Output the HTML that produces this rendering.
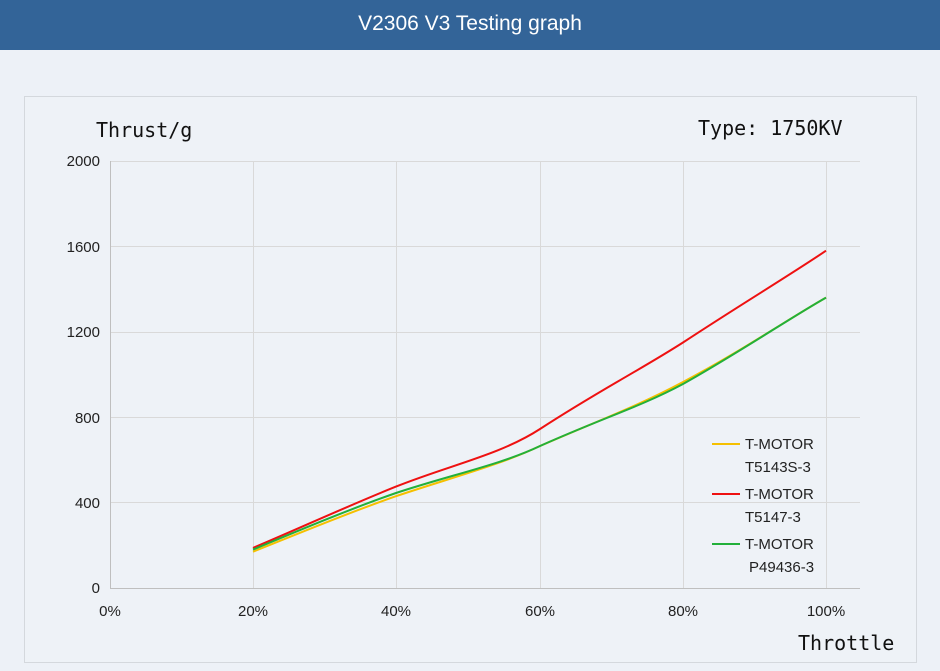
<!DOCTYPE html>
<html><head><meta charset="utf-8"><style>
body{margin:0;width:940px;height:671px;background:#edf1f7;overflow:hidden;font-family:"Liberation Sans",sans-serif}
.hdr{position:absolute;left:0;top:0;width:940px;height:50px;background:#336498;color:#fff;font-size:21px;text-align:center;line-height:48px}
</style></head><body>
<div class="hdr">V2306 V3 Testing graph</div>
<svg style="position:absolute;left:0;top:0" width="940" height="671">
<rect x="24.5" y="96.5" width="892" height="566" fill="#eef2f7" stroke="#d4d8dd"/>
<g stroke="#d9d9d9" stroke-width="1">
<line x1="110" y1="161.5" x2="860" y2="161.5"/><line x1="110" y1="246.5" x2="860" y2="246.5"/>
<line x1="110" y1="332.5" x2="860" y2="332.5"/><line x1="110" y1="417.5" x2="860" y2="417.5"/>
<line x1="110" y1="502.5" x2="860" y2="502.5"/>
<line x1="253.5" y1="161" x2="253.5" y2="588"/><line x1="396.5" y1="161" x2="396.5" y2="588"/>
<line x1="540.5" y1="161" x2="540.5" y2="588"/><line x1="683.5" y1="161" x2="683.5" y2="588"/>
<line x1="826.5" y1="161" x2="826.5" y2="588"/>
</g>
<line x1="110.5" y1="161" x2="110.5" y2="588" stroke="#bfbfbf"/>
<line x1="110" y1="588.5" x2="860" y2="588.5" stroke="#bfbfbf"/>
<g font-size="15" fill="#222" text-anchor="end">
<text x="100" y="166">2000</text><text x="100" y="252">1600</text><text x="100" y="337">1200</text>
<text x="100" y="423">800</text><text x="100" y="508">400</text><text x="100" y="593">0</text>
</g>
<g font-size="15" fill="#222" text-anchor="middle">
<text x="110" y="616">0%</text><text x="253" y="616">20%</text><text x="396" y="616">40%</text>
<text x="540" y="616">60%</text><text x="683" y="616">80%</text><text x="826" y="616">100%</text>
</g>
<g font-family="'DejaVu Sans Mono',monospace" font-size="20" fill="#111">
<text x="96" y="137">Thrust/g</text>
<text x="698" y="135">Type: 1750KV</text>
<text x="798" y="650">Throttle</text>
</g>
<g fill="none" stroke-width="2">
<path stroke="#f5c000" d="M253,551.7 C300,533 350,512 396,496.2 C450,478 500,465 540,446 C600,420 640,405 683,382 C740,352 790,318 826,297.6"/>
<path stroke="#ee1111" d="M253,547.9 C300,528 350,505 396,486.6 C450,465 500,455 540,429 C600,390 640,370 683,342.5 C740,305 790,275 826,250.7"/>
<path stroke="#22b03a" d="M253,549.6 C300,530 350,509 396,493 C450,475 500,465 540,446 C600,419 640,407 683,384 C740,352 790,318 826,297.6"/>
</g>
<g font-size="15" fill="#222">
<line x1="712" y1="444" x2="740" y2="444" stroke="#f5c000" stroke-width="2"/>
<text x="745" y="449">T-MOTOR</text><text x="745" y="472">T5143S-3</text>
<line x1="712" y1="494" x2="740" y2="494" stroke="#ee1111" stroke-width="2"/>
<text x="745" y="499">T-MOTOR</text><text x="745" y="522">T5147-3</text>
<line x1="712" y1="544" x2="740" y2="544" stroke="#22b03a" stroke-width="2"/>
<text x="745" y="549">T-MOTOR</text><text x="749" y="572">P49436-3</text>
</g>
</svg>
</body></html>
